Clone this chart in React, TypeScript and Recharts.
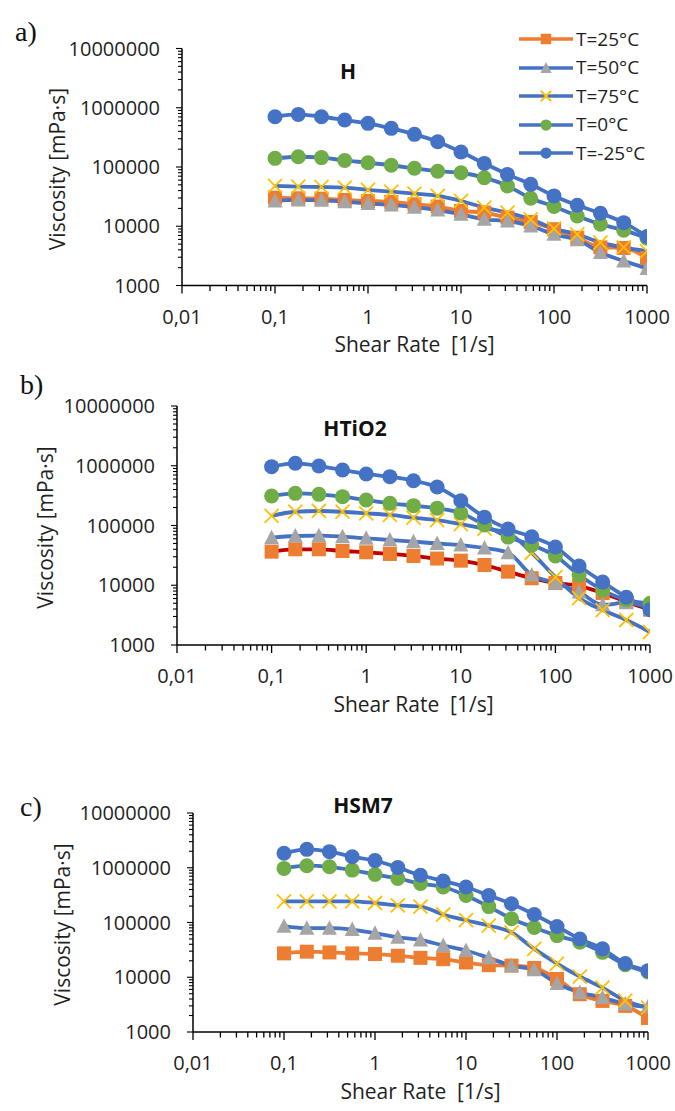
import React from 'react';
import { LineChart, Line, XAxis, YAxis, Legend } from 'recharts';

// shear rate points (1/s), shared by all three panels
const shearRate = [0.1, 0.178, 0.316, 0.562, 1, 1.78, 3.16, 5.62, 10, 17.8, 31.6, 56.2, 100, 178, 316, 562, 1000];

const xMajorTicks = [0.01, 0.1, 1, 10, 100, 1000];
const yMajorTicks = [1000, 10000, 100000, 1000000, 10000000];
const minorSteps = [2, 3, 4, 5, 6, 7, 8, 9];

const seriesNames = ['T=25°C', 'T=50°C', 'T=75°C', 'T=0°C', 'T=-25°C'];

// a) H  - viscosity in mPa·s
const hT25 = [30400, 29600, 29200, 27800, 26700, 25700, 23500, 21500, 18100, 17000, 14000, 11800, 8900, 6400, 4400, 4300, 2900];
const hT50 = [26700, 27800, 27400, 26000, 24100, 22900, 20900, 18800, 15900, 13100, 12300, 10100, 7300, 5900, 3600, 2600, 1940];
const hT75 = [48000, 46600, 46000, 44800, 41000, 38400, 35500, 32500, 26700, 20600, 17000, 13100, 9100, 7300, 5300, 4400, 3800];
const hT0 = [140000, 149000, 144000, 129000, 118000, 107000, 95000, 85000, 80000, 66000, 48000, 29700, 21500, 14900, 10800, 8600, 6300];
const hTm25 = [705000, 773000, 705000, 620000, 545000, 449000, 356000, 267000, 179000, 115000, 75000, 51000, 32500, 22600, 16600, 11500, 6700];

// b) HTiO2
const bT25 = [36500, 40000, 40000, 37400, 35600, 33400, 30900, 28000, 25800, 21800, 16900, 13100, 10900, 9800, 7400, 5300, 3900];
const bT50 = [62500, 66700, 67600, 65000, 61000, 57200, 53600, 50000, 47000, 42000, 35000, 14900, 10900, 7700, 4700, 5100, 4100];
const bT75 = [145000, 170000, 175000, 170000, 160000, 150000, 135000, 123000, 105000, 89000, 75000, 35000, 13700, 6100, 3850, 2620, 1650];
const bT0 = [312000, 345000, 332000, 304000, 267000, 235000, 215000, 195000, 162000, 102000, 64000, 47000, 31000, 14800, 8300, 5700, 5000];
const bTm25 = [966000, 1100000, 990000, 849000, 728000, 657000, 562000, 440000, 260000, 138000, 87000, 65000, 43600, 21000, 11300, 6300, 3900];

// c) HSM7
const cT25 = [27300, 29300, 28400, 27300, 26500, 24700, 22600, 21400, 18600, 16600, 16300, 14800, 9300, 4900, 3700, 3000, 1800];
const cT50 = [85800, 78800, 78800, 74400, 63700, 53700, 48000, 38000, 30800, 22600, 16300, 13700, 7700, 5260, 4270, 3240, 2880];
const cT75 = [244000, 244000, 244000, 244000, 227000, 206000, 195000, 140000, 110000, 88000, 66000, 33000, 17800, 10300, 6450, 3740, 2800];
const cT0 = [973000, 1090000, 1040000, 906000, 754000, 636000, 515000, 445000, 312000, 195000, 117000, 81000, 57600, 43600, 28500, 17000, 12500];
const cTm25 = [1840000, 2170000, 1970000, 1590000, 1350000, 1010000, 728000, 573000, 445000, 312000, 220000, 140000, 84500, 50000, 33000, 17800, 13200];

const BLUE = '#4472C4';
const ORANGE = '#ED7D31';
const GRAY = '#A5A5A5';
const YELLOW = '#FFC000';
const GREEN = '#70AD47';
const RED = '#C00000';
const TEXT = '#1f1f1f';
const FONT = '"Open Sans", "Noto Sans", sans-serif';

const withMinors = (majors: number[]) => {
  const out: number[] = [];
  majors.forEach((m, i) => {
    out.push(m);
    if (i < majors.length - 1) minorSteps.forEach((s) => out.push(m * s));
  });
  return out;
};
const X_TICKS = withMinors(xMajorTicks);
const Y_TICKS = withMinors(yMajorTicks);
const isMajor = (v: number) => Math.abs(Math.log10(v) - Math.round(Math.log10(v))) < 1e-6;

type Marker = 'square' | 'triangle' | 'cross' | 'circle';
const markers: Marker[] = ['square', 'triangle', 'cross', 'circle', 'circle'];
const markerColors = [ORANGE, GRAY, YELLOW, GREEN, BLUE];
const keys = ['t25', 't50', 't75', 't0', 'tm25'];

function drawMarker(kind: Marker, color: string, cx: number, cy: number, s = 1, key?: string) {
  if (kind === 'circle') return <circle key={key} cx={cx} cy={cy} r={7.5 * s} fill={color} />;
  if (kind === 'square')
    return <rect key={key} x={cx - 7 * s} y={cy - 7 * s} width={14 * s} height={14 * s} fill={color} />;
  if (kind === 'triangle')
    return (
      <polygon
        key={key}
        points={`${cx},${cy - 8 * s} ${cx + 7.5 * s},${cy + 6.5 * s} ${cx - 7.5 * s},${cy + 6.5 * s}`}
        fill={color}
      />
    );
  const d = 7 * s;
  return (
    <path
      key={key}
      d={`M${cx - d} ${cy - d}L${cx + d} ${cy + d}M${cx + d} ${cy - d}L${cx - d} ${cy + d}`}
      stroke={color}
      strokeWidth={1.8}
      fill="none"
    />
  );
}

const renderLegend = (props: any) => {
  const payload = [...(props.payload || [])].sort(
    (a: any, b: any) => keys.indexOf(a.dataKey) - keys.indexOf(b.dataKey)
  );
  return (
    <div style={{ fontFamily: FONT, fontSize: 19, color: TEXT }}>
      {payload.map((p: any, i: number) => {
        const idx = keys.indexOf(p.dataKey);
        return (
          <div key={i} style={{ display: 'flex', alignItems: 'center', height: 28.5 }}>
            <svg width={58} height={18}>
              <line x1={2} x2={56} y1={9} y2={9} stroke={idx === 0 ? ORANGE : BLUE} strokeWidth={3.5} />
              {drawMarker(markers[idx], markerColors[idx], 29, 9, 0.75)}
            </svg>
            <span style={{ marginLeft: 1, lineHeight: 1 }}>{p.value}</span>
          </div>
        );
      })}
    </div>
  );
};

type PanelProps = {
  top: number;
  height: number;
  plot: { left: number; right: number; top: number; bottom: number };
  letter: string;
  letterPos: [number, number];
  title: string;
  titlePos: [number, number];
  yTitleX: number;
  series: number[][];
  t25Line: string;
  legend?: boolean;
};

const Y_AXIS_W = 100;
const X_AXIS_H = 40;

function Panel({ top, height, plot, letter, letterPos, title, titlePos, yTitleX, series, t25Line, legend }: PanelProps) {
  const pt = plot.top - top;
  const pb = plot.bottom - top;
  const margin = {
    top: pt,
    left: plot.left - Y_AXIS_W,
    right: 675 - plot.right,
    bottom: height - pb - X_AXIS_H,
  };
  const data = shearRate.map((rate, i) => ({
    rate,
    t25: series[0][i],
    t50: series[1][i],
    t75: series[2][i],
    t0: series[3][i],
    tm25: series[4][i],
  }));

  const XTick = (p: any) => {
    const v = p.payload.value;
    const major = isMajor(v);
    return (
      <g>
        <line x1={p.x} x2={p.x} y1={pb} y2={pb + (major ? 8 : 5.5)} stroke="#000" strokeWidth={1.3} />
        {major && (
          <text x={p.x} y={pb + 31} dy="0.36em" textAnchor="middle" fill={TEXT} fontSize={20} fontFamily={FONT}>
            {String(v).replace('.', ',')}
          </text>
        )}
      </g>
    );
  };
  const YTick = (p: any) => {
    const v = p.payload.value;
    const major = isMajor(v);
    return (
      <g>
        <line x1={plot.left - (major ? 6 : 4)} x2={plot.left} y1={p.y} y2={p.y} stroke="#000" strokeWidth={1.1} />
        {major && (
          <text x={plot.left - 22} y={p.y} dy="0.36em" textAnchor="end" fill={TEXT} fontSize={20} fontFamily={FONT}>
            {String(v)}
          </text>
        )}
      </g>
    );
  };

  const lineColors = [t25Line, BLUE, BLUE, BLUE, BLUE];

  return (
    <div style={{ position: 'absolute', left: 0, top, width: 675, height }}>
      <div
        style={{
          position: 'absolute',
          left: letterPos[0],
          top: letterPos[1] - top,
          transform: 'translateY(-50%)',
          fontFamily: '"Liberation Serif", "DejaVu Serif", serif',
          fontSize: 28,
          lineHeight: 1,
          color: '#111',
        }}
      >
        {letter}
      </div>
      <div
        style={{
          position: 'absolute',
          left: titlePos[0],
          top: titlePos[1] - top,
          transform: 'translate(-50%, -50%)',
          fontFamily: FONT,
          fontWeight: 700,
          fontSize: 21,
          lineHeight: 1,
          color: '#111',
        }}
      >
        {title}
      </div>
      <LineChart width={675} height={height} data={data} margin={margin}>
        <XAxis
          dataKey="rate"
          type="number"
          scale="log"
          domain={[0.01, 1000]}
          ticks={X_TICKS}
          interval={0}
          allowDataOverflow
          height={X_AXIS_H}
          axisLine={{ stroke: '#000', strokeWidth: 1.5 }}
          tickLine={false}
          tick={XTick}
          label={() => (
            <text
              x={(plot.left + plot.right) / 2}
              y={pb + 59}
              dy="0.36em"
              textAnchor="middle"
              fill={TEXT}
              fontSize={21}
              fontFamily={FONT}
              style={{ whiteSpace: 'pre' }}
            >
              {'Shear Rate  [1/s]'}
            </text>
          )}
        />
        <YAxis
          type="number"
          scale="log"
          domain={[1000, 10000000]}
          ticks={Y_TICKS}
          interval={0}
          allowDataOverflow
          width={Y_AXIS_W}
          axisLine={{ stroke: '#000', strokeWidth: 1.5 }}
          tickLine={false}
          tick={YTick}
          label={() => {
            const cy = (pt + pb) / 2 + 2;
            return (
              <text
                x={yTitleX}
                y={cy}
                dy="0.36em"
                textAnchor="middle"
                fill={TEXT}
                fontSize={21}
                fontFamily={FONT}
                transform={`rotate(-90 ${yTitleX} ${cy})`}
              >
                Viscosity [mPa·s]
              </text>
            );
          }}
        />
        {legend && (
          <Legend
            layout="vertical"
            align="center"
            verticalAlign="middle"
            wrapperStyle={{ left: 517, top: 25, width: 155, height: 145 }}
            content={renderLegend}
          />
        )}
        {keys.map((k, i) => (
          <Line
            key={k}
            dataKey={k}
            name={seriesNames[i]}
            type="monotone"
            stroke={lineColors[i]}
            strokeWidth={3.8}
            isAnimationActive={false}
            dot={(d: any) => drawMarker(markers[i], markerColors[i], d.cx, d.cy, 1, `${k}-${d.index}`)}
            activeDot={false}
          />
        ))}
      </LineChart>
    </div>
  );
}

export default function App() {
  return (
    <div style={{ position: 'absolute', left: 0, top: 0, width: 675, height: 1111, background: '#fff', overflow: 'hidden' }}>
      <Panel
        top={0}
        height={365}
        plot={{ left: 182, right: 647, top: 48.5, bottom: 285.5 }}
        letter="a)"
        letterPos={[15, 32]}
        title="H"
        titlePos={[348, 71]}
        yTitleX={57}
        series={[hT25, hT50, hT75, hT0, hTm25]}
        t25Line={ORANGE}
        legend
      />
      <Panel
        top={365}
        height={375}
        plot={{ left: 177, right: 650, top: 406, bottom: 645 }}
        letter="b)"
        letterPos={[20, 385]}
        title="HTiO2"
        titlePos={[355, 428]}
        yTitleX={45}
        series={[bT25, bT50, bT75, bT0, bTm25]}
        t25Line={RED}
      />
      <Panel
        top={740}
        height={371}
        plot={{ left: 193, right: 648, top: 813, bottom: 1032 }}
        letter="c)"
        letterPos={[20, 807]}
        title="HSM7"
        titlePos={[363, 805]}
        yTitleX={62}
        series={[cT25, cT50, cT75, cT0, cTm25]}
        t25Line={ORANGE}
      />
    </div>
  );
}
